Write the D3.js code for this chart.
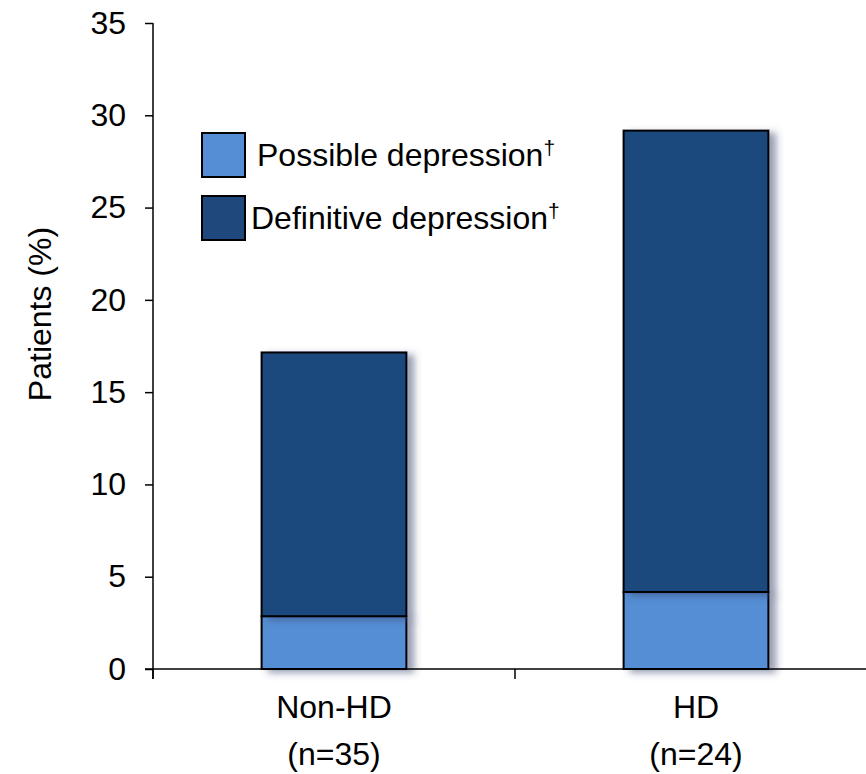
<!DOCTYPE html>
<html>
<head>
<meta charset="utf-8">
<script src="https://cdn.jsdelivr.net/npm/d3@7/dist/d3.min.js"></script>
<style>
  body { margin: 0; background: #fff; }
  text { font-family: "Liberation Sans", Arial, sans-serif; fill: #000; }
</style>
</head>
<body>
<svg id="chart" width="866" height="774"></svg>
<script>
const categories = ["Non-HD", "HD"];
const sampleSizes = ["(n=35)", "(n=24)"];
const seriesNames = ["Possible depression", "Definitive depression"];
const possible = [2.86, 4.17];
const definitive = [14.29, 25.0];
const yTicks = [0, 5, 10, 15, 20, 25, 30, 35];
const colors = ["#558ED5", "#1F497D"];

const svg = d3.select("#chart");
const margin = { left: 153, top: 23, bottom: 669 };

const defs = svg.append("defs");
const f = defs.append("filter").attr("id", "shadow")
  .attr("x", "-20%").attr("y", "-20%").attr("width", "150%").attr("height", "150%");
f.append("feDropShadow").attr("dx", 7).attr("dy", 3).attr("stdDeviation", 3.5)
  .attr("flood-color", "#34406a").attr("flood-opacity", 0.5);

const x = d3.scaleBand().domain(categories).range([153, 877]).padding(0);
const y = d3.scaleLinear().domain([0, 35]).range([669, 23]);
const barW = x.bandwidth() * 0.4;

const rows = categories.map((c, i) => ({ cat: c, vals: [possible[i], definitive[i]] }));
const segs = [];
rows.forEach(r => {
  let acc = 0;
  r.vals.forEach((v, k) => { segs.push({ cat: r.cat, k, y0: acc, y1: acc + v }); acc += v; });
});

// bars
svg.append("g").selectAll("rect").data(segs).join("rect")
  .attr("x", d => x(d.cat) + x.bandwidth() / 2 - barW / 2)
  .attr("y", d => y(d.y1))
  .attr("width", barW)
  .attr("height", d => y(d.y0) - y(d.y1))
  .attr("fill", d => colors[d.k])
  .attr("stroke", "#000").attr("stroke-width", 2)
  .attr("filter", "url(#shadow)");

// y axis
const yAxis = svg.append("g").attr("transform", `translate(${margin.left},0)`)
  .call(d3.axisLeft(y).tickValues(yTicks).tickSize(8).tickPadding(19).tickSizeOuter(0));
yAxis.select(".domain").attr("stroke", "#000").attr("stroke-width", 1.5)
  .attr("d", `M0,${y(35)}V${y(0) + 10}`);
yAxis.selectAll(".tick line").attr("stroke", "#000").attr("stroke-width", 1.5);
yAxis.selectAll(".tick text").style("font-size", "32px").style("font-family", "Liberation Sans, Arial, sans-serif").attr("fill", "#000");

// x axis
const xAxis = svg.append("g").attr("transform", `translate(0,${y(0)})`);
xAxis.append("line").attr("x1", margin.left - 8).attr("x2", 877)
  .attr("stroke", "#000").attr("stroke-width", 1.5);
const bounds = [x.range()[0], x(categories[1])];
xAxis.selectAll(".xt").data(bounds).join("line")
  .attr("x1", d => d).attr("x2", d => d).attr("y1", 0).attr("y2", 10)
  .attr("stroke", "#000").attr("stroke-width", 1.5);
xAxis.selectAll(".xl").data(categories).join("text")
  .attr("x", d => x(d) + x.bandwidth() / 2).attr("y", 49)
  .attr("text-anchor", "middle").style("font-size", "32px").text(d => d);
xAxis.selectAll(".xn").data(sampleSizes).join("text")
  .attr("x", (d, i) => x(categories[i]) + x.bandwidth() / 2).attr("y", 96)
  .attr("text-anchor", "middle").style("font-size", "32px").text(d => d);

// y label
svg.append("text").attr("transform", "translate(51,314) rotate(-90)")
  .attr("text-anchor", "middle").style("font-size", "32px").text("Patients (%)");

// legend
const leg = svg.append("g");
const legY = [133, 196];
const legTextX = [257, 251];
seriesNames.forEach((n, i) => {
  leg.append("rect").attr("x", 202).attr("y", legY[i]).attr("width", 43).attr("height", 44)
    .attr("fill", colors[i]).attr("stroke", "#000").attr("stroke-width", 2);
  const t = leg.append("text").attr("x", legTextX[i]).attr("y", legY[i] + 33)
    .style("font-size", "32px").text(n);
  t.append("tspan").attr("dy", -11).style("font-size", "21px").text("†");
});
</script>
</body>
</html>
